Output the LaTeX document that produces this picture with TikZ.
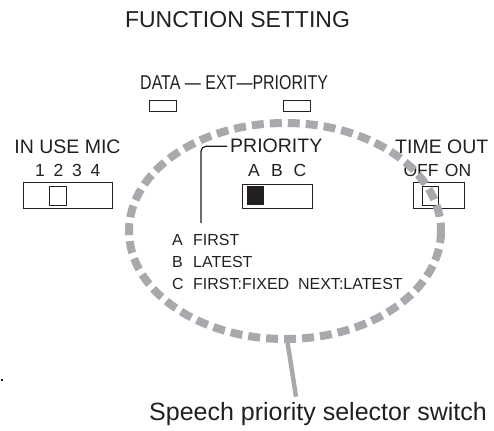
\documentclass[tikz,border=0pt]{standalone}
\usepackage{fontspec}
\setmainfont{Liberation Sans}
\usetikzlibrary{calc,positioning}
\definecolor{ink}{HTML}{231F20}
\definecolor{ringgray}{HTML}{A7A9AC}
\tikzset{
  txt/.style={inner sep=0pt,anchor=base,text=ink},
  big/.style={txt,font=\fontsize{23}{26}\selectfont},
  hdr/.style={txt,font=\fontsize{19.5}{22}\selectfont},
  poslbl/.style={txt,font=\fontsize{17.5}{20}\selectfont},
  sml/.style={txt,font=\fontsize{16}{19}\selectfont},
  swbox/.style={draw=ink,line width=0.9pt},
  selring/.style={draw=ringgray,line width=8pt,dash pattern=on 12pt off 6pt},
  leader/.style={draw=ringgray,line width=4.5pt}
}

\begin{document}
\begin{tikzpicture}[x=1pt,y=-1pt]
        \useasboundingbox (0,0) rectangle (494,430);
        \node[big] (title) at (237.5,28) {FUNCTION SETTING};
        % header row of the dip switches
        \node[txt,anchor=base west] (dip) at (140,90)
            {\scalebox{0.8}[1]{\fontsize{20}{22}\selectfont DATA \textemdash\ EXT\textemdash PRIORITY}};
        \draw[swbox] (149,100) rectangle (176,111);
        \draw[swbox] (283,100) rectangle (310,111);
        % in use mic
        \node[hdr] (mic) at (67.5,154) {IN USE MIC};
        \foreach \n/\x in {1/40,2/58.5,3/77,4/95.5}
            {
                \node[poslbl] (mic\n) at (\x,177) {\n};
            }
        \draw[swbox] (23,182) rectangle (112,208);
        \draw[swbox] (49,186) rectangle (66,205);
        % priority
        \node[hdr,anchor=base west] (prio) at (230,153) {PRIORITY};
        \foreach \n/\x in {A/254,B/277,C/300}
            {
                \node[poslbl] (prio\n) at (\x,177) {\n};
            }
        \draw[swbox] (242,184) rectangle (312,208);
        \fill[ink] (247,186) rectangle (264,205);
        \coordinate (brk) at (201,223);
        \draw[ink,line width=1.2pt,rounded corners=5pt] ([xshift=-3pt]prio.west) -| (brk);
        % time out
        \node[hdr,anchor=base west] (tout) at (395,154) {TIME OUT};
        \node[poslbl] (off) at (421,177) {OFF};
        \node[poslbl] (on) at (458,177) {ON};
        \draw[swbox] (413,182) rectangle (464,208);
        \draw[swbox] (422,186) rectangle (438,205);
        % priority modes
        \foreach \k/\t/\y in {A/FIRST/245,B/LATEST/267,C/{FIRST:FIXED\ \ NEXT:LATEST}/289}
            {
                \node[sml,anchor=base west] (key\k) at (172,\y) {\k};
                \node[sml,anchor=base west] (mode\k) at (193,\y) {\t};
            }
        % selector ring and its label
        \draw[selring] (285,231) ellipse [x radius=156, y radius=108];
        \coordinate (ringbot) at (287,339);
        \node[txt,font=\fontsize{25}{28}\selectfont] (speech) at (318,420) {Speech priority selector switch};
        \draw[leader] (ringbot) -- ([xshift=-22pt,yshift=5pt]speech.north);
        \fill[ink] (1,379) rectangle (3,381);
    \end{tikzpicture}
\end{document}
